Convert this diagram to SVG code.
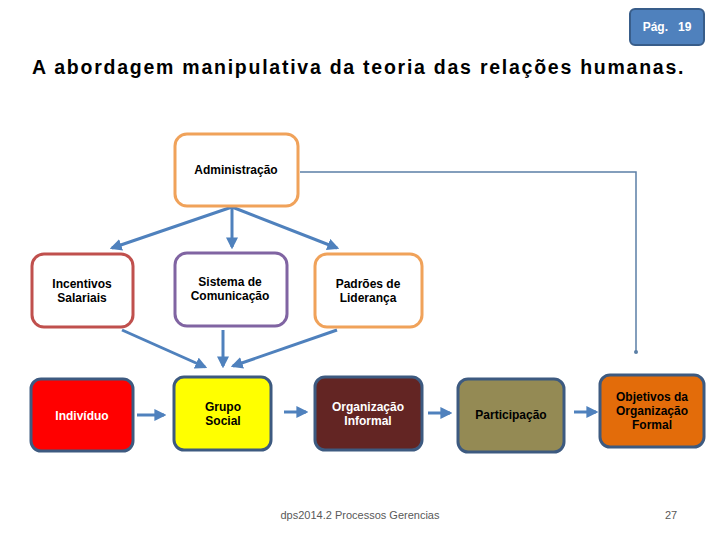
<svg xmlns="http://www.w3.org/2000/svg" width="720" height="540" viewBox="0 0 720 540">
<style>
.t{font-family:"Liberation Sans",Arial,sans-serif;font-weight:bold;font-size:12px;text-anchor:middle}
.c{stroke:#4f81bd;stroke-width:3;fill:none}
.box{stroke-width:3}
</style>
<defs>
<marker id="a" viewBox="0 0 10 10" refX="8" refY="5" markerWidth="4" markerHeight="4" orient="auto"><path d="M0,0L10,5L0,10Z" fill="#4f81bd"/></marker>
</defs>
<rect width="720" height="540" fill="#fff"/>
<g id="pag"><rect x="630" y="9" width="74" height="36" rx="5" fill="#4f81bd" stroke="#385d8a" stroke-width="2"/><text x="667" y="31" class="t" fill="#fff" font-size="11" xml:space="preserve">Pág.   19</text></g>
<text x="32" y="74" font-family="'Liberation Sans',Arial,sans-serif" font-weight="bold" font-size="19.5" letter-spacing="1.75">A abordagem manipulativa da teoria das relações humanas.</text>
<g id="connectors">
<line class="c" x1="232" y1="207" x2="112" y2="248" marker-end="url(#a)"/>
<line class="c" x1="232" y1="207" x2="232" y2="247" marker-end="url(#a)"/>
<line class="c" x1="232" y1="207" x2="337" y2="248" marker-end="url(#a)"/>
<line class="c" x1="122" y1="330" x2="205" y2="367" marker-end="url(#a)"/>
<line class="c" x1="223" y1="330" x2="223" y2="366" marker-end="url(#a)"/>
<line class="c" x1="337" y1="330" x2="233" y2="366" marker-end="url(#a)"/>
<line class="c" x1="137" y1="415" x2="164" y2="415" marker-end="url(#a)"/>
<line class="c" x1="284" y1="412" x2="306" y2="412" marker-end="url(#a)"/>
<line class="c" x1="428" y1="413" x2="450" y2="413" marker-end="url(#a)"/>
<line class="c" x1="574" y1="412" x2="596" y2="412" marker-end="url(#a)"/>
<polyline points="300,172 636,172 636,352" fill="none" stroke="#5b7fa6" stroke-width="1.5"/>
<circle cx="636" cy="352" r="2" fill="#5b7fa6"/>
</g>
<g id="adm"><rect class="box" x="175" y="134" width="123" height="72" rx="12" fill="#fff" stroke="#f0a25a"/><text class="t" x="236" y="174">Administração</text></g>
<g id="inc"><rect class="box" x="32" y="254" width="101" height="73" rx="12" fill="#fff" stroke="#c0504d"/><text class="t" x="82" y="288">Incentivos</text><text class="t" x="82" y="302">Salariais</text></g>
<g id="sis"><rect class="box" x="175" y="253" width="112" height="73" rx="12" fill="#fff" stroke="#8064a2"/><text class="t" x="230" y="286">Sistema de</text><text class="t" x="230" y="300">Comunicação</text></g>
<g id="pad"><rect class="box" x="315" y="254" width="107" height="73" rx="12" fill="#fff" stroke="#f0a25a"/><text class="t" x="368" y="288">Padrões de</text><text class="t" x="368" y="302">Liderança</text></g>
<g id="ind"><rect class="box" x="31" y="379" width="102" height="72" rx="10" fill="#ff0000" stroke="#3d5a80"/><text class="t" x="82" y="420" fill="#fff">Indivíduo</text></g>
<g id="gru"><rect class="box" x="174" y="377" width="97" height="73" rx="10" fill="#ffff00" stroke="#3d5a80"/><text class="t" x="223" y="411">Grupo</text><text class="t" x="223" y="425">Social</text></g>
<g id="org"><rect class="box" x="315" y="377" width="107" height="73" rx="10" fill="#632523" stroke="#3d5a80"/><text class="t" x="368" y="411" fill="#fff">Organização</text><text class="t" x="368" y="425" fill="#fff">Informal</text></g>
<g id="par"><rect class="box" x="458" y="379" width="106" height="73" rx="10" fill="#948a54" stroke="#3d5a80"/><text class="t" x="511" y="419">Participação</text></g>
<g id="obj"><rect class="box" x="600" y="375" width="104" height="72" rx="10" fill="#e36c0a" stroke="#3d5a80"/><text class="t" x="652" y="401">Objetivos da</text><text class="t" x="652" y="415">Organização</text><text class="t" x="652" y="429">Formal</text></g>
<text x="360" y="519" font-family="'Liberation Sans',Arial,sans-serif" font-size="11" fill="#595959" text-anchor="middle">dps2014.2 Processos Gerencias</text>
<text x="671" y="519" font-family="'Liberation Sans',Arial,sans-serif" font-size="11" fill="#595959" text-anchor="middle">27</text>
</svg>
